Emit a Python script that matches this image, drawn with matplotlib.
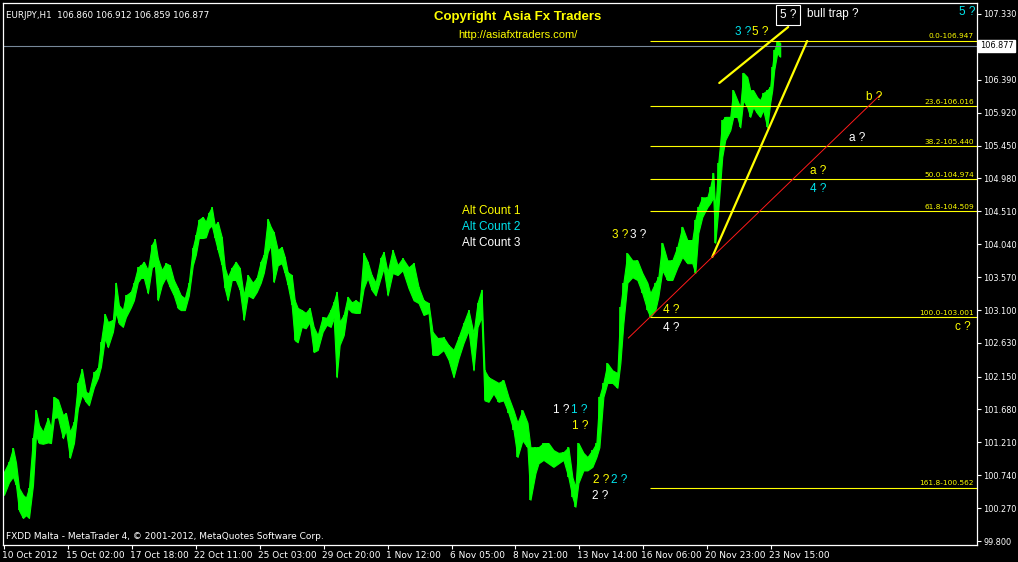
import matplotlib
matplotlib.use("Agg")
import matplotlib.pyplot as plt
import matplotlib.transforms as mtransforms

# === DATA (H1 bars, one bar per pixel) ===

bar_x = [0, 5, 9, 12, 15, 19, 22, 25, 29, 32,
         35, 39, 44, 47, 50, 54, 59, 62, 66, 70,
         74, 78, 82, 85, 90, 94, 97, 101, 104, 109,
         112, 115, 119, 122, 127, 130, 134, 137, 140, 144,
         148, 151, 154, 158, 162, 166, 170, 174, 177, 181,
         185, 189, 192, 195, 199, 202, 205, 208, 211, 214,
         218, 221, 224, 228, 232, 236, 240, 244, 249, 253,
         257, 260, 264, 267, 270, 274, 278, 281, 284, 288,
         291, 294, 298, 302, 306, 310, 314, 319, 323, 327,
         330, 333, 336, 340, 344, 348, 352, 356, 360, 364,
         368, 372, 377, 380, 384, 389, 394, 399, 405, 410,
         415, 420, 425, 429, 434, 440, 445, 450, 455, 460,
         465, 470, 474, 478, 481, 485, 490, 495, 500, 505,
         510, 514, 519, 524, 527, 532, 535, 540, 545, 550,
         555, 560, 565, 569, 572, 575, 580, 584, 589, 593,
         596, 600, 604, 609, 614, 617, 620, 624, 629, 634,
         639, 644, 647, 652, 655, 659, 664, 669, 674, 679,
         684, 689, 692, 695, 699, 704, 707, 710, 712, 715,
         719, 722, 727, 730, 734, 737, 740, 744, 747, 750,
         754, 757, 760, 764, 767, 769, 771, 774, 777]

highs = [100.79, 100.93, 101.13, 100.92, 100.56, 100.46, 100.42, 100.56, 101.27, 101.67,
         101.46, 101.36, 101.56, 101.41, 101.86, 101.82, 101.60, 101.63, 101.36, 101.50,
         102.06, 102.26, 101.93, 101.91, 102.21, 102.27, 102.64, 103.04, 102.93, 102.96,
         103.49, 103.17, 103.10, 103.31, 103.36, 103.49, 103.71, 103.74, 103.79, 103.67,
         104.03, 104.11, 103.84, 103.67, 103.77, 103.74, 103.53, 103.41, 103.31, 103.27,
         103.49, 103.99, 104.17, 104.39, 104.43, 104.36, 104.49, 104.57, 104.31, 104.36,
         104.14, 103.71, 103.57, 103.70, 103.79, 103.70, 103.31, 103.60, 103.49, 103.56,
         103.79, 103.89, 104.40, 104.29, 104.21, 103.96, 104.00, 103.86, 103.64, 103.60,
         103.24, 103.13, 103.10, 103.06, 103.13, 102.86, 102.74, 103.00, 102.99, 103.10,
         103.21, 103.36, 102.93, 103.03, 103.29, 103.21, 103.24, 103.20, 103.91, 103.79,
         103.60, 103.49, 103.84, 103.93, 103.64, 103.96, 103.74, 103.84, 103.71, 103.77,
         103.43, 103.24, 103.20, 102.79, 102.70, 102.71, 102.60, 102.53, 102.71, 102.91,
         103.10, 102.77, 103.20, 103.39, 102.24, 102.14, 102.10, 102.06, 102.10, 101.86,
         101.67, 101.49, 101.67, 101.49, 101.14, 101.14, 101.14, 101.20, 101.20, 101.10,
         101.06, 101.07, 101.14, 100.71, 100.57, 101.20, 101.06, 101.00, 101.10, 101.20,
         101.86, 102.06, 102.34, 102.24, 102.20, 103.14, 103.49, 103.91, 103.81, 103.81,
         103.63, 103.49, 103.34, 103.49, 103.57, 104.06, 103.81, 103.81, 104.00, 104.29,
         104.10, 104.10, 104.39, 104.57, 104.71, 104.71, 104.86, 105.06, 104.53, 105.20,
         105.81, 105.86, 105.86, 106.24, 106.10, 106.00, 106.49, 106.43, 106.24, 106.24,
         106.14, 106.10, 106.20, 106.24, 106.29, 106.57, 106.81, 106.93, 106.92]

lows = [100.46, 100.64, 100.72, 100.60, 100.24, 100.13, 100.17, 100.13, 100.60, 101.31,
        101.20, 101.19, 101.21, 101.20, 101.56, 101.57, 101.27, 101.39, 100.99, 101.20,
        101.70, 101.89, 101.79, 101.74, 102.00, 102.13, 102.29, 102.70, 102.57, 102.79,
        103.07, 102.91, 102.86, 103.00, 103.14, 103.24, 103.50, 103.56, 103.56, 103.34,
        103.71, 103.74, 103.24, 103.46, 103.57, 103.43, 103.31, 103.13, 103.10, 103.10,
        103.31, 103.74, 103.89, 104.13, 104.13, 104.14, 104.27, 104.31, 104.13, 103.96,
        103.74, 103.41, 103.24, 103.53, 103.53, 103.39, 102.96, 103.31, 103.27, 103.36,
        103.49, 103.63, 103.93, 104.03, 103.50, 103.74, 103.77, 103.63, 103.46, 103.17,
        102.67, 102.64, 102.86, 102.84, 102.93, 102.50, 102.53, 102.79, 102.89, 102.86,
        102.99, 102.14, 102.60, 102.74, 103.13, 103.07, 103.06, 103.06, 103.41, 103.56,
        103.39, 103.31, 103.56, 103.70, 103.31, 103.63, 103.60, 103.67, 103.41, 103.24,
        103.20, 103.03, 103.06, 102.46, 102.46, 102.53, 102.39, 102.14, 102.41, 102.63,
        102.81, 102.24, 102.86, 103.00, 101.81, 101.79, 101.91, 101.79, 101.81, 101.63,
        101.39, 101.00, 101.24, 101.14, 100.39, 100.77, 100.91, 100.96, 100.91, 100.86,
        100.91, 100.96, 100.71, 100.43, 100.29, 100.63, 100.81, 100.81, 100.86, 101.00,
        101.14, 101.86, 102.06, 102.06, 101.99, 102.34, 102.91, 103.49, 103.57, 103.53,
        103.34, 103.10, 103.00, 103.10, 103.29, 103.67, 103.53, 103.53, 103.71, 103.86,
        103.77, 103.77, 103.63, 104.20, 104.43, 104.57, 104.63, 104.71, 104.06, 104.53,
        105.29, 105.53, 105.67, 105.86, 105.86, 105.71, 106.10, 106.00, 105.86, 106.00,
        105.91, 105.86, 105.96, 105.71, 106.06, 106.24, 106.53, 106.77, 106.72]

# fibonacci retracement
fib_levels = [106.947, 106.016, 105.440, 104.974, 104.509, 103.001, 100.562]
fib_names = ["0.0", "23.6", "38.2", "50.0", "61.8", "100.0", "161.8"]
fib_start = 647

# trend lines (bar, price)
wedge_upper = ([716, 785], [106.344, 107.144])
wedge_lower = ([709, 804], [103.859, 106.944])
red_line = ([625, 877], [102.701, 106.173])

last_price = 106.877
header = "EURJPY,H1  106.860 106.912 106.859 106.877"

y_ticks = [99.800, 100.270, 100.740, 101.210, 101.680, 102.150, 102.630, 103.100,
           103.570, 104.040, 104.510, 104.980, 105.450, 105.920, 106.390, 107.330]

x_tick_bars = [0, 64, 128, 192, 256, 320, 384, 448, 512, 576, 640, 704, 768]
x_tick_labels = ["10 Oct 2012", "15 Oct 02:00", "17 Oct 18:00", "22 Oct 11:00",
                 "25 Oct 03:00", "29 Oct 20:00", "1 Nov 12:00", "6 Nov 05:00",
                 "8 Nov 21:00", "13 Nov 14:00", "16 Nov 06:00", "20 Nov 23:00",
                 "23 Nov 15:00"]

# wave labels: (bar, price, text, colour)
YEL, CYN, WHT = "#ffff00", "#00e5ee", "#ffffff"
wave_labels = [
    (732, 107.073, "3 ?", CYN), (749, 107.073, "5 ?", YEL),
    (863, 106.144, "b ?", YEL), (846, 105.559, "a ?", WHT),
    (807, 105.087, "a ?", YEL), (807, 104.830, "4 ?", CYN),
    (952, 102.860, "c ?", YEL),
    (609, 104.173, "3 ?", YEL), (627, 104.173, "3 ?", WHT),
    (660, 103.101, "4 ?", YEL), (660, 102.844, "4 ?", WHT),
    (550, 101.673, "1 ?", WHT), (568, 101.673, "1 ?", CYN),
    (569, 101.444, "1 ?", YEL),
    (590, 100.673, "2 ?", YEL), (608, 100.673, "2 ?", CYN),
    (589, 100.444, "2 ?", WHT),
    (804, 107.330, "bull trap ?", WHT),
]
alt_counts = [("Alt Count 1", YEL), ("Alt Count 2", CYN), ("Alt Count 3", WHT)]

# === PLOT ===

W, H = 1018, 562
fig = plt.figure(figsize=(W / 100, H / 100), dpi=100, facecolor="black")
ax = fig.add_axes([3 / W, (H - 545) / H, 974 / W, 542 / H], facecolor="black")

ax.set_xlim(-1, 974)
ax.set_ylim(99.744, 107.487)

ax.fill_between(bar_x, lows, highs, color="#00ff00", lw=0.8, edgecolor="#00ff00")
ax.vlines(bar_x, lows, highs, color="#00ff00", lw=1.2)

ax.axhline(last_price, color="#778899", lw=0.8)

ax.hlines(fib_levels, fib_start, 974, color="#ffff00", lw=0.8)
for lvl, name in zip(fib_levels, fib_names):
    ax.annotate(f"{name}-{lvl:.3f}", (971, lvl), xytext=(0, 1),
                textcoords="offset points", ha="right", va="bottom",
                color="#ffff00", fontsize=5.3)

ax.plot(*wedge_upper, color="#ffff00", lw=1.6, solid_capstyle="round")
ax.plot(*wedge_lower, color="#ffff00", lw=1.6, solid_capstyle="round")
ax.plot(*red_line, color="#ff1a1a", lw=0.7)

for bx, py, txt, col in wave_labels:
    ax.text(bx, py, txt, color=col, fontsize=8.5, family="Liberation Sans",
            ha="left", va="center")
for i, (txt, col) in enumerate(alt_counts):
    ax.text(458, 104.516 - i * 0.229, txt, color=col, fontsize=8.5,
            family="Liberation Sans", ha="left", va="center")

ax.text(785, 107.316, "5 ?", color="white", fontsize=8.5, family="Liberation Sans",
        ha="center", va="center",
        bbox=dict(boxstyle="square,pad=0.3", fc="black", ec="white", lw=0.8))
ax.text(972, 107.36, "5 ?", color=CYN, fontsize=8.5, family="Liberation Sans",
        ha="right", va="center")

# header, copyright, footer
ax.text(0.003, 0.985, header, transform=ax.transAxes, color="white",
        fontsize=6.3, ha="left", va="top")
fig.text(518 / W, 1 - 17 / H, "Copyright  Asia Fx Traders", color="#ffff00",
         fontsize=9.5, fontweight="bold", family="Liberation Sans",
         ha="center", va="center")
fig.text(518 / W, 1 - 35 / H, "http://asiafxtraders.com/", color="#ffff00",
         fontsize=8, family="Liberation Sans", ha="center", va="center")
ax.text(0.003, 0.008, "FXDD Malta - MetaTrader 4, \u00a9 2001-2012, MetaQuotes Software Corp.",
        transform=ax.transAxes, color="white", fontsize=6.5, ha="left", va="bottom")

# axes
for sp in ax.spines.values():
    sp.set_color("white")
    sp.set_linewidth(0.9)

ax.yaxis.tick_right()
ax.set_yticks(y_ticks)
ax.set_yticklabels([f"{v:.3f}" for v in y_ticks])
ax.tick_params(axis="y", colors="white", labelsize=5.9, direction="out",
               length=3, width=0.8, pad=1.5)

ax.set_xticks(x_tick_bars)
ax.set_xticklabels(x_tick_labels, ha="left")
ax.tick_params(axis="x", colors="white", labelsize=6.5, direction="out",
               length=3, width=0.8, pad=1)
for lab in ax.get_xticklabels():
    lab.set_transform(lab.get_transform() +
                      mtransforms.ScaledTranslation(-2 / 100, 0, fig.dpi_scale_trans))

# current price box
trans = mtransforms.blended_transform_factory(ax.transAxes, ax.transData)
ax.text(1.003, last_price, f"{last_price:.3f}", transform=trans, color="black",
        fontsize=5.9, ha="left", va="center",
        bbox=dict(boxstyle="square,pad=0.2", fc="white", ec="white"))

fig.savefig("out.png", dpi=100, facecolor="black")
